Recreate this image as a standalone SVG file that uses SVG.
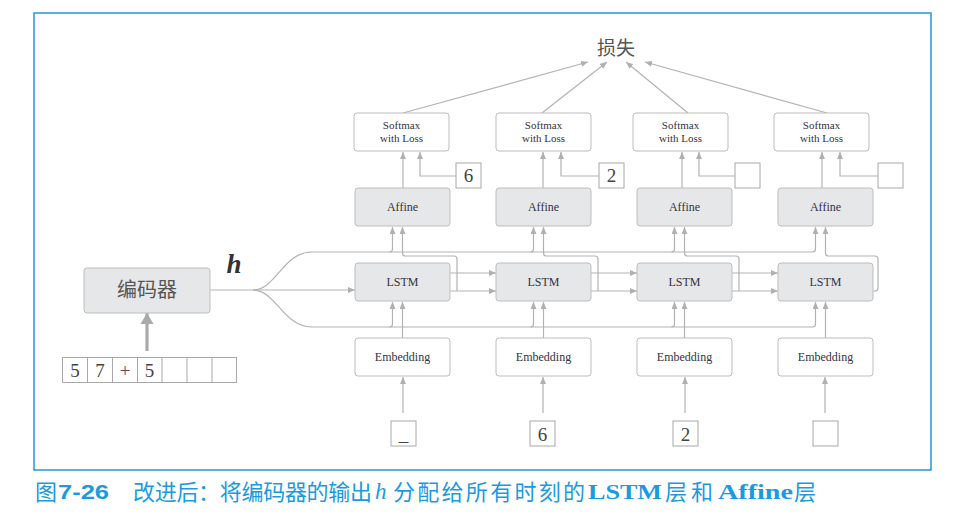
<svg xmlns="http://www.w3.org/2000/svg" width="970" height="522" viewBox="0 0 970 522">
<defs>
<marker id="ah" markerUnits="userSpaceOnUse" markerWidth="8" markerHeight="6" refX="7" refY="3" orient="auto">
<path d="M0,0 L7,3 L0,6 z" fill="#b0b0b0"/>
</marker>
<marker id="ahb" markerUnits="userSpaceOnUse" markerWidth="14" markerHeight="14" refX="11" refY="7" orient="auto">
<path d="M0,0.5 L11,7 L0,13.5 z" fill="#aaaaaa"/>
</marker>
<style>
.g{fill:#e6e7e8;stroke:#bdbdbd;stroke-width:1}
.w{fill:#ffffff;stroke:#bdbdbd;stroke-width:1}
.sq{fill:#ffffff;stroke:#a8a8a8;stroke-width:1}
.ln{fill:none;stroke:#b3b3b3;stroke-width:1.2}
.la{fill:none;stroke:#b3b3b3;stroke-width:1.2;marker-end:url(#ah)}
.t{font-family:"Liberation Serif",serif;font-size:12px;fill:#333344;text-anchor:middle}
.s{font-family:"Liberation Serif",serif;font-size:11px;fill:#333344;text-anchor:middle}
.num{font-family:"Liberation Serif",serif;font-size:19px;fill:#444;text-anchor:middle}
.cjk{font-family:"Noto Sans CJK SC",sans-serif;fill:#555;text-anchor:middle}
.cap{font-family:"Noto Sans CJK SC",sans-serif;font-size:22px;fill:#1a9be0}
.capn{font-family:"Liberation Sans",sans-serif;font-size:21px;font-weight:bold;fill:#1a9be0}
.capi{font-family:"Liberation Serif",serif;font-size:23px;font-style:italic;fill:#1a9be0}
.capb{font-family:"Liberation Serif",serif;font-size:22px;font-weight:bold;fill:#1a9be0}
</style>
</defs>

<rect x="34" y="13" width="897" height="457" fill="none" stroke="#1f9bd7" stroke-width="1.5"/>

<g id="connectors">
<line x1="147" y1="351" x2="147" y2="313" stroke="#aaaaaa" stroke-width="3.2" marker-end="url(#ahb)"/>
<path class="ln" d="M210,290 L253,290"/>
<path class="la" d="M253,290 L355,290"/>
<path class="ln" d="M253,290 C276,290 283,252 312,252 L812.5,252 Q815.5,252 815.5,249 L815.5,227" marker-end="url(#ah)"/>
<path class="ln" d="M253,290 C276,290 283,327 312,327 L812.5,327 Q815.5,327 815.5,324 L815.5,302" marker-end="url(#ah)"/>
<path class="la" d="M389.5,252 Q392.5,252 392.5,249 L392.5,227"/>
<path class="la" d="M530.5,252 Q533.5,252 533.5,249 L533.5,227"/>
<path class="la" d="M671.5,252 Q674.5,252 674.5,249 L674.5,227"/>
<path class="la" d="M389.5,327 Q392.5,327 392.5,324 L392.5,302"/>
<path class="la" d="M530.5,327 Q533.5,327 533.5,324 L533.5,302"/>
<path class="la" d="M671.5,327 Q674.5,327 674.5,324 L674.5,302"/>
<path class="la" d="M450,273 L496,273"/>
<path class="la" d="M450,291 L496,291"/>
<path class="la" d="M591,273 L637,273"/>
<path class="la" d="M591,291 L637,291"/>
<path class="la" d="M732,273 L778,273"/>
<path class="la" d="M732,291 L778,291"/>
<path class="la" d="M457,291 L457,259 Q457,256 454,256 L405.5,256 Q402.5,256 402.5,253 L402.5,227"/>
<path class="la" d="M598,291 L598,259 Q598,256 595,256 L546.5,256 Q543.5,256 543.5,253 L543.5,227"/>
<path class="la" d="M739,291 L739,259 Q739,256 736,256 L687.5,256 Q684.5,256 684.5,253 L684.5,227"/>
<path class="la" d="M873,291 L875,291 Q878,291 878,288 L878,259 Q878,256 875,256 L828.5,256 Q825.5,256 825.5,253 L825.5,227"/>
<path class="la" d="M402.5,338 L402.5,302"/>
<path class="la" d="M543.5,338 L543.5,302"/>
<path class="la" d="M684.5,338 L684.5,302"/>
<path class="la" d="M825.5,338 L825.5,302"/>
<path class="la" d="M403,413 L403,377"/>
<path class="la" d="M543,413 L543,377"/>
<path class="la" d="M685,413 L685,377"/>
<path class="la" d="M825,413 L825,377"/>
<path class="la" d="M403,188 L403,152"/>
<path class="la" d="M543,188 L543,152"/>
<path class="la" d="M682,188 L682,152"/>
<path class="la" d="M822,188 L822,152"/>
<path class="la" d="M456,176 L420,176 L420,152"/>
<path class="la" d="M599,176 L561,176 L561,152"/>
<path class="la" d="M735,176 L699,176 L699,152"/>
<path class="la" d="M878,176 L840,176 L840,152"/>
<path class="la" d="M403,113 L588,62"/>
<path class="la" d="M542,113 L607,62"/>
<path class="la" d="M688,113 L626,62"/>
<path class="la" d="M827,113 L645,62"/>
</g>

<g id="loss"><text class="cjk" x="616" y="55" font-size="19">损失</text></g>

<g id="encoder">
<rect class="g" x="84" y="268" width="126" height="45" rx="3"/>
<text class="cjk" x="147" y="297" font-size="20">编码器</text>
</g>
<g id="h-label"><text x="234" y="273" font-family="Liberation Serif,serif" font-size="27" font-style="italic" font-weight="bold" fill="#333" text-anchor="middle">h</text></g>

<g id="encoder-input">
<rect class="sq" x="62.5" y="357.5" width="174" height="25"/>
<path d="M87.5,357.5 V382.5 M112.5,357.5 V382.5 M137.5,357.5 V382.5 M162,357.5 V382.5 M187,357.5 V382.5 M212,357.5 V382.5" stroke="#a8a8a8" stroke-width="1"/>
<text class="num" x="75" y="377">5</text>
<text class="num" x="100" y="377">7</text>
<text class="num" x="125" y="377" style="fill:#7a3a5a">+</text>
<text class="num" x="149.5" y="377">5</text>
</g>

<g id="softmax1"><rect class="w" x="354" y="113" width="95" height="38" rx="3"/><text class="s" x="401.5" y="129">Softmax</text><text class="s" x="401.5" y="141.5">with Loss</text></g>
<g id="softmax2"><rect class="w" x="496" y="113" width="95" height="38" rx="3"/><text class="s" x="543.5" y="129">Softmax</text><text class="s" x="543.5" y="141.5">with Loss</text></g>
<g id="softmax3"><rect class="w" x="633" y="113" width="95" height="38" rx="3"/><text class="s" x="680.5" y="129">Softmax</text><text class="s" x="680.5" y="141.5">with Loss</text></g>
<g id="softmax4"><rect class="w" x="774" y="113" width="95" height="38" rx="3"/><text class="s" x="821.5" y="129">Softmax</text><text class="s" x="821.5" y="141.5">with Loss</text></g>

<g id="target1"><rect class="sq" x="456" y="163" width="25" height="25"/><text class="num" x="468.5" y="182">6</text></g>
<g id="target2"><rect class="sq" x="599" y="163" width="25" height="25"/><text class="num" x="611.5" y="182">2</text></g>
<g id="target3"><rect class="sq" x="735" y="163" width="25" height="25"/></g>
<g id="target4"><rect class="sq" x="878" y="163" width="25" height="25"/></g>

<g id="affine1"><rect class="g" x="355" y="188" width="95" height="38" rx="3"/><text class="t" x="402.5" y="211">Affine</text></g>
<g id="affine2"><rect class="g" x="496" y="188" width="95" height="38" rx="3"/><text class="t" x="543.5" y="211">Affine</text></g>
<g id="affine3"><rect class="g" x="637" y="188" width="95" height="38" rx="3"/><text class="t" x="684.5" y="211">Affine</text></g>
<g id="affine4"><rect class="g" x="778" y="188" width="95" height="38" rx="3"/><text class="t" x="825.5" y="211">Affine</text></g>

<g id="lstm1"><rect class="g" x="355" y="263" width="95" height="38" rx="3"/><text class="t" x="402.5" y="286">LSTM</text></g>
<g id="lstm2"><rect class="g" x="496" y="263" width="95" height="38" rx="3"/><text class="t" x="543.5" y="286">LSTM</text></g>
<g id="lstm3"><rect class="g" x="637" y="263" width="95" height="38" rx="3"/><text class="t" x="684.5" y="286">LSTM</text></g>
<g id="lstm4"><rect class="g" x="778" y="263" width="95" height="38" rx="3"/><text class="t" x="825.5" y="286">LSTM</text></g>

<g id="embedding1"><rect class="w" x="355" y="338" width="95" height="38" rx="3"/><text class="t" x="402.5" y="361">Embedding</text></g>
<g id="embedding2"><rect class="w" x="496" y="338" width="95" height="38" rx="3"/><text class="t" x="543.5" y="361">Embedding</text></g>
<g id="embedding3"><rect class="w" x="637" y="338" width="95" height="38" rx="3"/><text class="t" x="684.5" y="361">Embedding</text></g>
<g id="embedding4"><rect class="w" x="778" y="338" width="95" height="38" rx="3"/><text class="t" x="825.5" y="361">Embedding</text></g>

<g id="input1"><rect class="sq" x="391" y="421" width="25" height="25"/><text class="num" x="403.5" y="441">_</text></g>
<g id="input2"><rect class="sq" x="530" y="421" width="25" height="25"/><text class="num" x="542.5" y="441">6</text></g>
<g id="input3"><rect class="sq" x="673" y="421" width="25" height="25"/><text class="num" x="685.5" y="441">2</text></g>
<g id="input4"><rect class="sq" x="813" y="421" width="25" height="25"/></g>

<g id="caption">
<text class="cap" x="35" y="500">图</text>
<text class="capn" x="58" y="499" textLength="51" lengthAdjust="spacingAndGlyphs">7-26</text>
<text class="cap" x="133" y="500" textLength="239" lengthAdjust="spacing">改进后：将编码器的输出</text>
<text class="capi" x="375" y="499">h</text>
<text class="cap" x="393" y="500" textLength="192" lengthAdjust="spacing">分配给所有时刻的</text>
<text class="capb" x="588" y="499" textLength="74" lengthAdjust="spacingAndGlyphs">LSTM</text>
<text class="cap" x="665" y="500" textLength="48" lengthAdjust="spacing">层和</text>
<text class="capb" x="718" y="499" textLength="75" lengthAdjust="spacingAndGlyphs">Affine</text>
<text class="cap" x="794" y="500">层</text>
</g>
</svg>
